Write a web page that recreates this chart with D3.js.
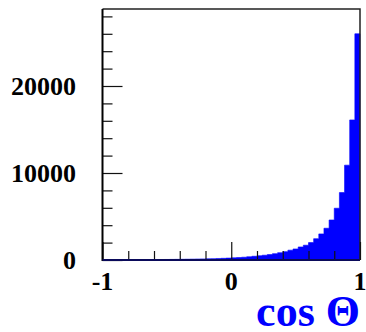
<!DOCTYPE html>
<html>
<head>
<meta charset="utf-8">
<script src="https://cdn.jsdelivr.net/npm/d3@7"></script>
<style>
  body { margin: 0; background: #fff; }
  svg { display: block; }
  .lbl { font-family: "Liberation Serif", "Times New Roman", serif; font-weight: bold; }
</style>
</head>
<body>
<svg id="chart" width="366" height="332"></svg>
<script>
// 50 bins of cos(theta) from -1 to 1
var binLo = -1, binHi = 1;
var counts = [23, 25, 27, 29, 31, 34, 37, 40, 43, 47,
              51, 56, 61, 67, 74, 82, 90, 100, 112, 125,
              140, 155, 175, 195, 220, 250, 280, 320, 370, 430,
              490, 550, 620, 730, 840, 960, 1130, 1270, 1500, 1700,
              2000, 2450, 3000, 3650, 4600, 5950, 7750, 10900, 16100, 26000];
var yMajor = [0, 10000, 20000];
var yMinor = [2000, 4000, 6000, 8000, 12000, 14000, 16000, 18000, 22000, 24000, 26000, 28000];
var xMajor = [-1, 0, 1];
var xMinor = [-0.8, -0.6, -0.4, -0.2, 0.2, 0.4, 0.6, 0.8];
var xTitle = "cos \u0398";

var svg = d3.select("#chart");
var fLeft = 102.5, fRight = 360, fTop = 9, fBottom = 260;

var x = d3.scaleLinear().domain([binLo, binHi]).range([fLeft, fRight]);
var y = d3.scaleLinear().domain([0, 28850]).range([fBottom, fTop]);

var bw = (binHi - binLo) / counts.length;
var pts = counts.map(function(c, i) { return {x: binLo + i * bw, v: c}; });
pts.push({x: binHi, v: counts[counts.length - 1]});

// histogram as a filled step area
var area = d3.area()
  .curve(d3.curveStepAfter)
  .x(function(d) { return x(d.x); })
  .y0(y(0))
  .y1(function(d) { return y(d.v); });

svg.append("path")
  .datum(pts)
  .attr("d", area)
  .attr("fill", "#0000ff")
  .attr("stroke", "#0000ff")
  .attr("stroke-width", 0.6);

// frame top and right
svg.append("path")
  .attr("d", "M" + fLeft + "," + fTop + "H" + fRight + "V" + fBottom)
  .attr("fill", "none")
  .attr("stroke", "#222")
  .attr("stroke-width", 1.5);

function styleTicks(g) {
  g.select(".domain").remove();
  g.selectAll("line").attr("stroke", "#111").attr("stroke-width", 1.2);
}

// y axis ticks (inward)
svg.append("g")
  .attr("transform", "translate(" + fLeft + ",0)")
  .call(d3.axisLeft(y).tickValues(yMajor).tickSize(-20).tickFormat(""))
  .call(styleTicks);
svg.append("g")
  .attr("transform", "translate(" + fLeft + ",0)")
  .call(d3.axisLeft(y).tickValues(yMinor).tickSize(-10).tickFormat(""))
  .call(styleTicks);

// x axis ticks (inward)
svg.append("g")
  .attr("transform", "translate(0," + fBottom + ")")
  .call(d3.axisBottom(x).tickValues(xMajor).tickSize(-18).tickFormat(""))
  .call(styleTicks);
svg.append("g")
  .attr("transform", "translate(0," + fBottom + ")")
  .call(d3.axisBottom(x).tickValues(xMinor).tickSize(-9).tickFormat(""))
  .call(styleTicks);

// axis lines
svg.append("line")
  .attr("x1", fLeft).attr("x2", fLeft).attr("y1", fTop).attr("y2", fBottom + 1)
  .attr("stroke", "#000").attr("stroke-width", 2);
svg.append("line")
  .attr("x1", fLeft).attr("x2", fRight).attr("y1", fBottom).attr("y2", fBottom)
  .attr("stroke", "#0a0a5a").attr("stroke-width", 2);

// labels
svg.selectAll(".ylab")
  .data(yMajor)
  .enter().append("text")
  .attr("class", "lbl")
  .attr("x", 76)
  .attr("y", function(d) { return y(d) + 9; })
  .attr("text-anchor", "end")
  .attr("font-size", 26)
  .text(function(d) { return d; });

svg.selectAll(".xlab")
  .data(xMajor)
  .enter().append("text")
  .attr("class", "lbl")
  .attr("x", function(d) { return x(d); })
  .attr("y", 290)
  .attr("text-anchor", "middle")
  .attr("font-size", 26)
  .text(function(d) { return d; });

svg.append("text")
  .attr("class", "lbl")
  .attr("x", 360)
  .attr("y", 326)
  .attr("text-anchor", "end")
  .attr("font-size", 44)
  .attr("fill", "#0000ff")
  .text(xTitle);
</script>
</body>
</html>
